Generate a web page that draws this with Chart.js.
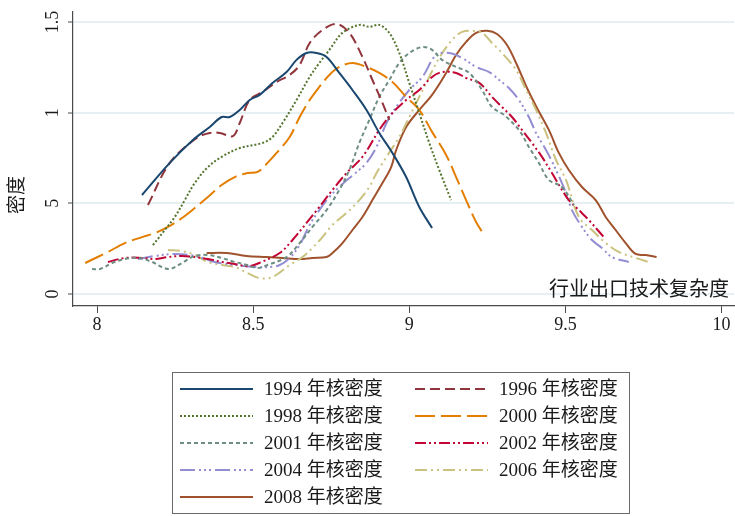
<!DOCTYPE html>
<html>
<head>
<meta charset="utf-8">
<script src="https://cdn.jsdelivr.net/npm/chart.js@4/dist/chart.umd.min.js"></script>
<style>
  body { margin: 0; background: #fff; }
</style>
</head>
<body>
<canvas id="kde-chart" width="735" height="516"></canvas>
<script>
// axis ticks and titles
const xTicks = [8, 8.5, 9, 9.5, 10];
const xTickLabels = ['8', '8.5', '9', '9.5', '10'];
const yTicks = [0, 0.5, 1, 1.5];
const yTickLabels = ['0', '5', '1', '1.5'];
const xTitle = '行业出口技术复杂度';
const yTitle = '密度';

// density curves
const x1994 = [8.144, 8.233, 8.307, 8.361, 8.399, 8.425, 8.457, 8.489, 8.521, 8.562, 8.607, 8.639, 8.671, 8.703, 8.735, 8.776, 8.818, 8.863, 8.904, 8.946, 8.990, 9.032, 9.073];
const y1994 = [0.546, 0.723, 0.849, 0.921, 0.976, 0.976, 1.015, 1.070, 1.098, 1.164, 1.224, 1.291, 1.329, 1.329, 1.307, 1.219, 1.125, 1.015, 0.888, 0.778, 0.645, 0.480, 0.364];

const x1996 = [8.163, 8.233, 8.319, 8.361, 8.393, 8.435, 8.457, 8.489, 8.530, 8.575, 8.617, 8.649, 8.681, 8.722, 8.767, 8.808, 8.850, 8.882, 8.914, 8.936];
const y1996 = [0.491, 0.723, 0.860, 0.888, 0.888, 0.871, 0.943, 1.070, 1.114, 1.169, 1.208, 1.263, 1.384, 1.456, 1.489, 1.440, 1.307, 1.180, 1.054, 0.960];

const x1998 = [8.179, 8.217, 8.249, 8.281, 8.313, 8.355, 8.399, 8.457, 8.530, 8.562, 8.594, 8.639, 8.681, 8.712, 8.744, 8.786, 8.840, 8.872, 8.904, 8.936, 8.968, 9.000, 9.032, 9.064, 9.096, 9.134];
const y1998 = [0.270, 0.353, 0.425, 0.518, 0.612, 0.700, 0.756, 0.805, 0.833, 0.866, 0.943, 1.070, 1.197, 1.274, 1.346, 1.440, 1.484, 1.473, 1.484, 1.440, 1.329, 1.164, 0.998, 0.833, 0.684, 0.518];

const x2000 = [7.962, 8.035, 8.089, 8.144, 8.185, 8.227, 8.272, 8.313, 8.355, 8.399, 8.441, 8.482, 8.514, 8.546, 8.575, 8.617, 8.649, 8.681, 8.712, 8.744, 8.776, 8.818, 8.863, 8.904, 8.946, 8.990, 9.032, 9.073, 9.118, 9.150, 9.182, 9.214, 9.240];
const y2000 = [0.171, 0.232, 0.281, 0.314, 0.336, 0.370, 0.419, 0.474, 0.535, 0.601, 0.645, 0.667, 0.673, 0.723, 0.778, 0.866, 0.976, 1.070, 1.142, 1.208, 1.252, 1.274, 1.252, 1.219, 1.169, 1.087, 1.015, 0.894, 0.767, 0.645, 0.518, 0.397, 0.325];

const x2001 = [7.984, 8.010, 8.048, 8.089, 8.131, 8.176, 8.208, 8.233, 8.272, 8.313, 8.355, 8.399, 8.441, 8.482, 8.514, 8.546, 8.607, 8.649, 8.690, 8.735, 8.776, 8.808, 8.840, 8.872, 8.904, 8.936, 8.968, 9.000, 9.042, 9.073, 9.105, 9.150, 9.192, 9.233, 9.265, 9.304, 9.351, 9.383, 9.415, 9.447, 9.489, 9.527];
const y2001 = [0.138, 0.138, 0.171, 0.193, 0.199, 0.177, 0.149, 0.138, 0.171, 0.210, 0.215, 0.199, 0.177, 0.160, 0.143, 0.160, 0.204, 0.281, 0.370, 0.463, 0.574, 0.684, 0.833, 0.960, 1.087, 1.180, 1.274, 1.329, 1.362, 1.346, 1.291, 1.252, 1.219, 1.125, 1.031, 0.987, 0.905, 0.811, 0.723, 0.629, 0.590, 0.491];

const x2002 = [8.035, 8.089, 8.144, 8.185, 8.227, 8.272, 8.313, 8.355, 8.399, 8.441, 8.489, 8.527, 8.585, 8.626, 8.671, 8.712, 8.754, 8.799, 8.850, 8.904, 8.946, 8.990, 9.032, 9.073, 9.105, 9.150, 9.182, 9.224, 9.265, 9.297, 9.329, 9.361, 9.393, 9.425, 9.457, 9.489, 9.511, 9.543, 9.575, 9.623];
const y2002 = [0.177, 0.199, 0.199, 0.193, 0.204, 0.210, 0.204, 0.193, 0.177, 0.165, 0.154, 0.177, 0.226, 0.298, 0.392, 0.480, 0.574, 0.667, 0.756, 0.905, 0.998, 1.070, 1.125, 1.197, 1.224, 1.219, 1.191, 1.164, 1.087, 1.031, 0.976, 0.905, 0.833, 0.756, 0.667, 0.574, 0.518, 0.463, 0.408, 0.314];

const x2004 = [8.131, 8.185, 8.249, 8.313, 8.377, 8.441, 8.505, 8.553, 8.585, 8.617, 8.649, 8.681, 8.712, 8.744, 8.786, 8.824, 8.863, 8.895, 8.927, 8.958, 9.000, 9.042, 9.086, 9.128, 9.169, 9.214, 9.256, 9.288, 9.319, 9.351, 9.383, 9.406, 9.438, 9.470, 9.502, 9.521, 9.553, 9.585, 9.617, 9.649, 9.703];
const y2004 = [0.193, 0.210, 0.221, 0.210, 0.177, 0.160, 0.149, 0.149, 0.160, 0.199, 0.270, 0.381, 0.463, 0.535, 0.607, 0.662, 0.723, 0.811, 0.943, 1.031, 1.125, 1.197, 1.318, 1.329, 1.302, 1.252, 1.224, 1.180, 1.136, 1.070, 0.976, 0.888, 0.794, 0.684, 0.557, 0.463, 0.370, 0.298, 0.254, 0.204, 0.177];

const x2006 = [8.227, 8.272, 8.313, 8.355, 8.399, 8.441, 8.482, 8.521, 8.562, 8.617, 8.658, 8.690, 8.722, 8.754, 8.799, 8.840, 8.872, 8.895, 8.927, 8.968, 9.000, 9.032, 9.064, 9.096, 9.137, 9.169, 9.201, 9.233, 9.265, 9.297, 9.342, 9.374, 9.406, 9.438, 9.470, 9.502, 9.543, 9.585, 9.629, 9.671, 9.725, 9.776];
const y2006 = [0.243, 0.237, 0.215, 0.177, 0.160, 0.149, 0.116, 0.088, 0.094, 0.160, 0.204, 0.254, 0.314, 0.381, 0.447, 0.518, 0.590, 0.667, 0.756, 0.866, 0.976, 1.087, 1.197, 1.302, 1.401, 1.445, 1.451, 1.440, 1.384, 1.329, 1.236, 1.125, 1.015, 0.888, 0.739, 0.629, 0.425, 0.353, 0.281, 0.232, 0.199, 0.171];

const x2008 = [8.351, 8.415, 8.479, 8.543, 8.594, 8.649, 8.690, 8.735, 8.754, 8.786, 8.818, 8.850, 8.882, 8.914, 8.942, 8.958, 8.990, 9.032, 9.073, 9.118, 9.150, 9.182, 9.214, 9.249, 9.281, 9.313, 9.345, 9.377, 9.409, 9.447, 9.479, 9.511, 9.553, 9.597, 9.629, 9.661, 9.693, 9.725, 9.757, 9.792];
const y2008 = [0.226, 0.226, 0.210, 0.204, 0.199, 0.193, 0.199, 0.204, 0.226, 0.281, 0.353, 0.425, 0.518, 0.612, 0.700, 0.794, 0.921, 1.015, 1.098, 1.219, 1.318, 1.390, 1.440, 1.451, 1.434, 1.373, 1.263, 1.136, 1.026, 0.905, 0.778, 0.684, 0.590, 0.518, 0.425, 0.353, 0.281, 0.221, 0.215, 0.204];

const serif = '"Liberation Serif", "Noto Sans CJK SC", serif';
const inkColor = '#1a1a1a';
const axisColor = '#4a4a4a';

function toPoints(xs, ys) {
    return xs.map((x, i) => ({ x: x, y: ys[i] }));
}

function curve(label, xs, ys, color, dash) {
    return {
        label: label,
        data: toPoints(xs, ys),
        borderColor: color,
        borderDash: dash,
        borderWidth: 2,
        pointRadius: 0,
        tension: 0.35,
        fill: false
    };
}

const datasets = [
    curve('1994 年核密度', x1994, y1994, '#1a476f', []),
    curve('1996 年核密度', x1996, y1996, '#90353b', [10, 5]),
    curve('1998 年核密度', x1998, y1998, '#55752f', [2, 2]),
    curve('2000 年核密度', x2000, y2000, '#e37e00', [20, 6]),
    curve('2001 年核密度', x2001, y2001, '#6e8e84', [4, 3]),
    curve('2002 年核密度', x2002, y2002, '#c10534', [11, 3, 2, 3, 2, 3]),
    curve('2004 年核密度', x2004, y2004, '#938dd2', [15, 4, 2, 3, 2, 3, 2, 4]),
    curve('2006 年核密度', x2006, y2006, '#cac27e', [12, 4, 2, 4, 2, 4]),
    curve('2008 年核密度', x2008, y2008, '#a0522d', [])
];

// rotated y tick labels, titles and the boxed legend
const extrasPlugin = {
    id: 'extras',
    afterDraw(chart) {
        const ctx = chart.ctx;
        const yScale = chart.scales.y;
        ctx.save();
        ctx.fillStyle = inkColor;

        ctx.font = '18px ' + serif;
        ctx.textAlign = 'center';
        ctx.textBaseline = 'middle';
        yTicks.forEach((v, i) => {
            ctx.save();
            ctx.translate(53, yScale.getPixelForValue(v));
            ctx.rotate(-Math.PI / 2);
            ctx.fillText(yTickLabels[i], 0, 0);
            ctx.restore();
        });

        ctx.save();
        ctx.font = '19px ' + serif;
        ctx.translate(18, 195);
        ctx.rotate(-Math.PI / 2);
        ctx.fillText(yTitle, 0, 0);
        ctx.restore();

        ctx.font = '20px ' + serif;
        ctx.textAlign = 'right';
        ctx.fillText(xTitle, 729, 291);

        // legend
        ctx.strokeStyle = '#6a6a6a';
        ctx.lineWidth = 1;
        ctx.strokeRect(172.5, 372.5, 457, 141);
        ctx.font = '19px ' + serif;
        ctx.textAlign = 'left';
        chart.data.datasets.forEach((ds, i) => {
            const col = i % 2;
            const row = Math.floor(i / 2);
            const x0 = col ? 415 : 180;
            const y = 389 + row * 27;
            ctx.strokeStyle = ds.borderColor;
            ctx.lineWidth = 2;
            ctx.setLineDash(ds.borderDash);
            ctx.beginPath();
            ctx.moveTo(x0, y);
            ctx.lineTo(x0 + 73, y);
            ctx.stroke();
            ctx.setLineDash([]);
            ctx.fillText(ds.label, x0 + 84, y + 1);
        });
        ctx.restore();
    }
};

new Chart(document.getElementById('kde-chart'), {
    type: 'line',
    data: { datasets: datasets },
    plugins: [extrasPlugin],
    options: {
        responsive: false,
        animation: false,
        layout: { padding: { top: 12, right: 1, bottom: 170, left: 0 } },
        plugins: {
            legend: { display: false },
            tooltip: { enabled: false }
        },
        scales: {
            x: {
                type: 'linear',
                min: 7.923,
                max: 10.04,
                afterBuildTicks: scale => { scale.ticks = xTicks.map(v => ({ value: v })); },
                afterFit: scale => { scale.height = 40; },
                grid: { drawOnChartArea: false, tickLength: 7, tickColor: axisColor, tickWidth: 1 },
                border: { color: axisColor, width: 1.2 },
                ticks: {
                    autoSkip: false,
                    maxRotation: 0,
                    padding: 1,
                    color: inkColor,
                    font: { family: serif, size: 18 },
                    callback: (value, index) => xTickLabels[index]
                }
            },
            y: {
                type: 'linear',
                min: -0.066,
                max: 1.555,
                afterBuildTicks: scale => { scale.ticks = yTicks.map(v => ({ value: v })); },
                afterFit: scale => { scale.width = 73; },
                grid: { color: '#e6eff1', lineWidth: 2, tickLength: 5, tickColor: axisColor, tickWidth: 1 },
                border: { color: axisColor, width: 1.2 },
                ticks: { display: false }
            }
        }
    }
});
</script>
</body>
</html>
